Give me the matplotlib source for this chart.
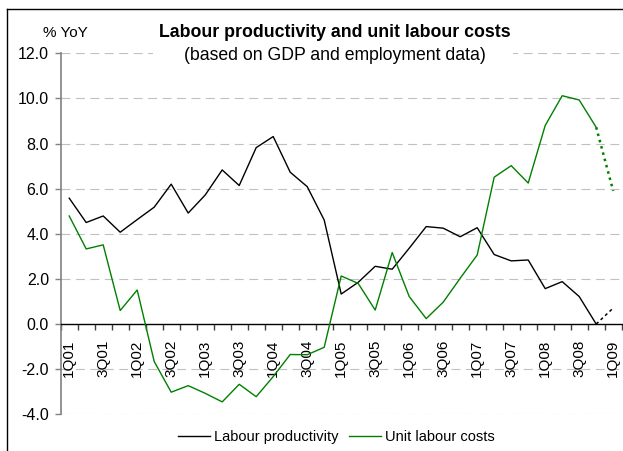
import numpy as np
import matplotlib
matplotlib.use("Agg")
import matplotlib.pyplot as plt
from matplotlib.lines import Line2D
from matplotlib.patches import Rectangle

plt.rcParams['font.family'] = ['Liberation Sans', 'DejaVu Sans']

# quarters 1Q01 .. 1Q09
quarters = []
for yr in range(1, 10):
    for q in range(1, 5):
        quarters.append(f"{q}Q{yr:02d}")
quarters = quarters[:33]

# % YoY (last point is a preliminary estimate, drawn dotted)
productivity = [5.58, 4.50, 4.79, 4.07, 4.63, 5.18, 6.20, 4.92, 5.72, 6.83,
                6.14, 7.82, 8.31, 6.73, 6.09, 4.61, 1.33, 1.85, 2.56, 2.43,
                3.36, 4.32, 4.25, 3.87, 4.27, 3.08, 2.80, 2.84, 1.57, 1.88,
                1.22, 0.0, 0.71]
unit_labour = [4.79, 3.33, 3.51, 0.60, 1.51, -1.66, -3.02, -2.73, -3.07, -3.45,
               -2.67, -3.22, -2.33, -1.35, -1.36, -1.03, 2.13, 1.80, 0.62, 3.17,
               1.22, 0.24, 0.97, 2.03, 3.06, 6.51, 7.02, 6.25, 8.80, 10.12,
               9.93, 8.72, 5.90]

x = np.arange(len(quarters))
W, H = 623, 451

fig = plt.figure(figsize=(W / 100, H / 100), dpi=100)
ax = fig.add_axes([60.7 / W, 1 - 414.3 / H, (621.7 - 60.7) / W, (414.3 - 53.3) / H])

grey = '#c0c0c0'
for yv in [12, 10, 8, 6, 4, 2, -2, -4]:
    ax.axhline(yv, color=grey, lw=0.8, ls=(0, (8, 5)), zorder=1)

# solid part
ax.plot(x[:-1], productivity[:-1], color='black', lw=1.0, label='Labour productivity', zorder=3)
ax.plot(x[:-1], unit_labour[:-1], color='#008000', lw=1.0, label='Unit labour costs', zorder=3)
# dotted last quarter
ax.plot(x[-2:], productivity[-2:], color='black', lw=1.1, ls=(0, (2, 2)), zorder=3)
ax.plot(x[-2:], unit_labour[-2:], color='#008000', lw=1.8, ls=(0, (1, 1.6)), zorder=3)

ax.set_xlim(-0.5, len(quarters) - 0.5)
ax.set_ylim(-4, 12)

for s in ['top', 'right']:
    ax.spines[s].set_visible(False)
ax.spines['left'].set_color('#808080')
ax.spines['left'].set_linewidth(1.2)
ax.spines['bottom'].set_position(('data', 0))
ax.spines['bottom'].set_color('black')
ax.spines['bottom'].set_linewidth(1.0)

ax.set_yticks(np.arange(-4, 13, 2))
ax.set_yticklabels([f"{v:.1f}" for v in np.arange(-4, 13, 2)])
ax.tick_params(axis='y', direction='out', length=4, width=1, color='#808080',
               pad=4.5, labelsize=11.5)

ax.set_xticks(x[::2])
ax.set_xticklabels(quarters[::2], rotation=90, va='top', ha='center')
ax.set_xticks(np.arange(-0.5, len(quarters), 1), minor=True)
ax.tick_params(axis='x', which='major', length=0, pad=11.5, labelsize=11)
ax.tick_params(axis='x', which='minor', direction='out', length=4, width=1, color='#404040')

ax.legend(loc='center', bbox_to_anchor=(336.5 / W, 1 - 437 / H), bbox_transform=fig.transFigure,
          ncol=2, frameon=False, fontsize=10.5, handlelength=2.2, handletextpad=0.27,
          columnspacing=0.7, borderpad=0, borderaxespad=0)

# white box behind title (covers the top gridline)
fig.patches.append(Rectangle((153 / W, 1 - 64 / H), (513 - 153) / W, 44 / H,
                             transform=fig.transFigure, facecolor='white', edgecolor='none', zorder=2))
fig.text(334.5 / W, 1 - 37.3 / H, 'Labour productivity and unit labour costs', ha='center',
         va='baseline', fontsize=12.8, fontweight='bold', zorder=3)
fig.text(334.5 / W, 1 - 59.5 / H, '(based on GDP and employment data)', ha='center',
         va='baseline', fontsize=12.7, zorder=3)
fig.text(65.5 / W, 1 - 37.3 / H, '% YoY', ha='center', va='baseline', fontsize=11)

# outer chart border (clipped at right and bottom)
fig.lines.append(Line2D([7 / W, 1], [1 - 9.3 / H] * 2, transform=fig.transFigure, color='black', lw=1))
fig.lines.append(Line2D([7 / W] * 2, [0, 1 - 9.3 / H], transform=fig.transFigure, color='black', lw=1))

fig.savefig('out.png', dpi=100)
